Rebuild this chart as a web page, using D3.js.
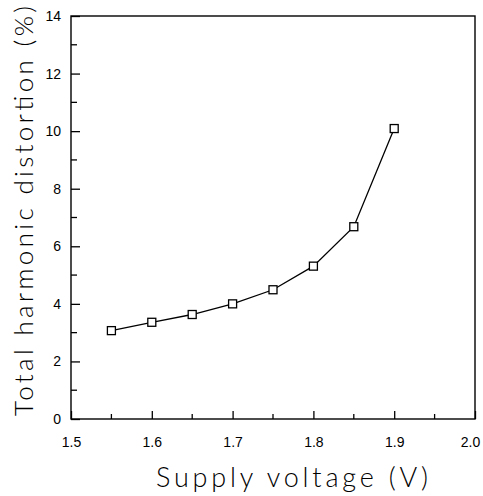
<!DOCTYPE html>
<html><head><meta charset="utf-8">
<script src="https://cdn.jsdelivr.net/npm/d3@7"></script>
<style>body{margin:0;background:#fff}svg{display:block}</style>
</head><body>
<svg id="c" width="483" height="496"></svg>
<script>
const voltage = [1.55, 1.60, 1.65, 1.70, 1.75, 1.80, 1.85, 1.90];
const thd = [3.07, 3.36, 3.63, 4.0, 4.49, 5.31, 6.68, 10.09];
const xTicks = [1.5, 1.6, 1.7, 1.8, 1.9, 2.0];
const yTicks = [0, 2, 4, 6, 8, 10, 12, 14];
const xMinor = [1.55, 1.65, 1.75, 1.85, 1.95];
const yMinor = [1, 3, 5, 7, 9, 11, 13];

const svg = d3.select("#c");
const L = 71, R = 475, T = 16, B = 419;
const x = d3.scaleLinear().domain([1.5, 2.0]).range([L, R]);
const y = d3.scaleLinear().domain([0, 14]).range([B, T]);
const g = svg.append("g");

// frame
g.append("rect").attr("x", L).attr("y", T).attr("width", R - L).attr("height", B - T)
  .attr("fill", "none").attr("stroke", "#000").attr("stroke-width", 1.4);

// ticks (inward)
const xa = d3.axisBottom(x).tickValues(xTicks).tickSize(-8).tickPadding(18).tickFormat(d3.format(".1f"));
const xg = g.append("g").attr("transform", `translate(0,${B})`).call(xa);
const ya = d3.axisLeft(y).tickValues(yTicks).tickSize(-9).tickPadding(10).tickFormat(d3.format("d"));
const yg = g.append("g").attr("transform", `translate(${L},0)`).call(ya);
[xg, yg].forEach(a => {
  a.select(".domain").remove();
  a.selectAll("line").attr("stroke", "#000").attr("stroke-width", 1.3);
  a.selectAll("text").attr("fill", "#000").style("font-family", "Liberation Sans, Arial, sans-serif").style("font-size", "14px");
});
xg.selectAll(".tick text").filter(d => d === 2.0).attr("dx", -5);
g.append("g").selectAll("line").data(xMinor).join("line")
  .attr("x1", d => x(d)).attr("x2", d => x(d)).attr("y1", B).attr("y2", B - 5)
  .attr("stroke", "#000").attr("stroke-width", 1.3);
g.append("g").selectAll("line").data(yMinor).join("line")
  .attr("x1", L).attr("x2", L + 6).attr("y1", d => y(d)).attr("y2", d => y(d))
  .attr("stroke", "#000").attr("stroke-width", 1.3);

// line + markers
const pts = voltage.map((v, i) => [v, thd[i]]);
g.append("path").datum(pts)
  .attr("d", d3.line().x(d => x(d[0])).y(d => y(d[1])))
  .attr("fill", "none").attr("stroke", "#000").attr("stroke-width", 1.3);
g.append("g").selectAll("rect").data(pts).join("rect")
  .attr("x", d => x(d[0]) - 4).attr("y", d => y(d[1]) - 4)
  .attr("width", 8).attr("height", 8)
  .attr("fill", "#fff").attr("stroke", "#000").attr("stroke-width", 1.3);

// titles
svg.append("text").attr("x", 292).attr("y", 487).attr("text-anchor", "middle")
  .attr("textLength", 272).attr("lengthAdjust", "spacing")
  .style("font-family", "Lato, DejaVu Sans, sans-serif").style("font-weight", 300).style("font-size", "27px")
  .text("Supply voltage (V)");
svg.append("text").attr("transform", "translate(33,211) rotate(-90)").attr("text-anchor", "middle")
  .attr("textLength", 410).attr("lengthAdjust", "spacing")
  .style("font-family", "Lato, DejaVu Sans, sans-serif").style("font-weight", 300).style("font-size", "26px")
  .text("Total harmonic distortion (%)");
</script>
</body></html>
